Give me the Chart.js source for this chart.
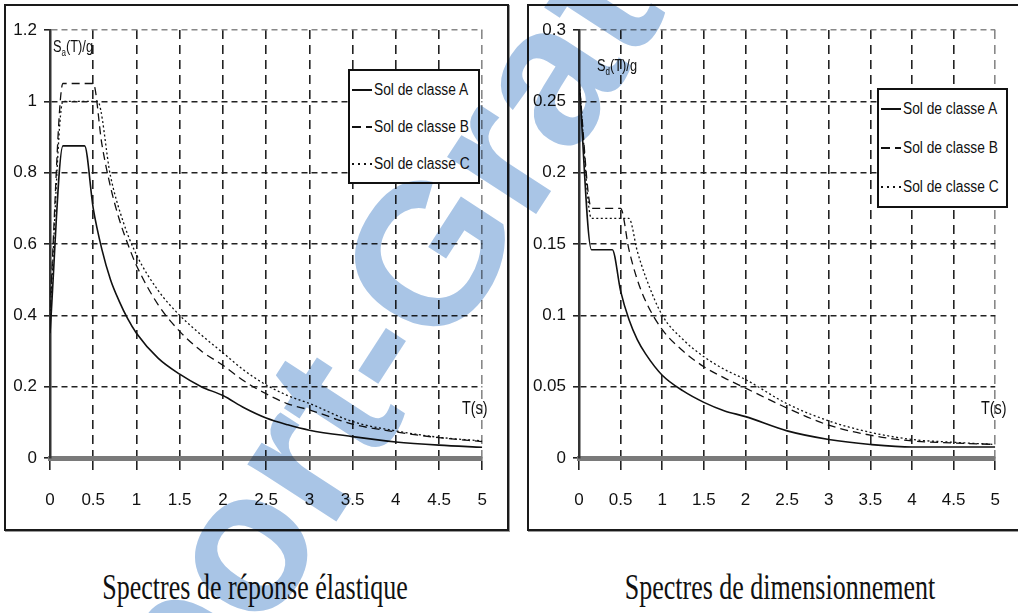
<!DOCTYPE html>
<html>
<head>
<meta charset="utf-8">
<script src="https://cdn.jsdelivr.net/npm/chart.js@4.4.1/dist/chart.umd.min.js"></script>
<style>
body{margin:0;width:1018px;height:613px;overflow:hidden;background:#fff;position:relative;
  font-family:"Liberation Sans",Arial,sans-serif;color:#111}
.box{position:absolute;border:2px solid #1a1a1a;box-shadow:1px 1px 0 #999;background:#fff}
.box canvas{position:absolute;left:0;top:0}
.legend{position:absolute;border:2px solid #111;background:#fff;display:flex;flex-direction:column;justify-content:space-around;padding:0 2px;box-sizing:border-box;overflow:hidden}
.legend div{display:flex;align-items:center;font-size:16px;white-space:nowrap}
.legend svg{margin-right:2px;flex:none}
.legend span{display:inline-block;transform:scaleX(0.86);transform-origin:0 50%}
.lab{position:absolute;font-size:16px;white-space:nowrap;transform:scaleX(0.8);transform-origin:0 0}
.lab sub{font-size:10px}
.title{position:absolute;font-family:"Liberation Serif","DejaVu Serif",serif;font-size:26px;text-align:center;white-space:nowrap;transform:scaleY(1.35);transform-origin:50% 0}
#wm{position:absolute;left:0;top:0;mix-blend-mode:multiply;pointer-events:none}
</style>
</head>
<body>

<div class="box" style="left:4px;top:4px;width:501px;height:523px"><canvas id="elastic" width="501" height="523"></canvas></div>
<div class="box" style="left:527px;top:4px;width:491px;height:523px"><canvas id="design" width="491" height="523"></canvas></div>

<div class="lab" style="left:53px;top:38px">S<sub>a</sub>(T)/g</div>
<div class="lab" style="left:597px;top:57px">S<sub>d</sub>(T)/g</div>
<div class="lab" style="left:462px;top:398px;font-size:18px">T(s)</div>
<div class="lab" style="left:981px;top:398px;font-size:18px">T(s)</div>

<div class="legend" style="left:348px;top:69px;width:132px;height:115px">
  <div><svg width="20" height="4"><line x1="0" y1="2" x2="20" y2="2" stroke="#111" stroke-width="2"/></svg><span>Sol de classe A</span></div>
  <div><svg width="20" height="4"><line x1="0" y1="2" x2="20" y2="2" stroke="#111" stroke-width="2" stroke-dasharray="9,5"/></svg><span>Sol de classe B</span></div>
  <div><svg width="20" height="4"><line x1="0" y1="2" x2="20" y2="2" stroke="#111" stroke-width="2" stroke-dasharray="2,4"/></svg><span>Sol de classe C</span></div>
</div>
<div class="legend" style="left:877px;top:88px;width:131px;height:120px">
  <div><svg width="20" height="4"><line x1="0" y1="2" x2="20" y2="2" stroke="#111" stroke-width="2"/></svg><span>Sol de classe A</span></div>
  <div><svg width="20" height="4"><line x1="0" y1="2" x2="20" y2="2" stroke="#111" stroke-width="2" stroke-dasharray="9,5"/></svg><span>Sol de classe B</span></div>
  <div><svg width="20" height="4"><line x1="0" y1="2" x2="20" y2="2" stroke="#111" stroke-width="2" stroke-dasharray="2,4"/></svg><span>Sol de classe C</span></div>
</div>

<div class="title" style="left:55px;width:400px;top:568px">Spectres de réponse élastique</div>
<div class="title" style="left:580px;width:400px;top:568px">Spectres de dimensionnement</div>

<svg id="wm" width="1018" height="613">
  <text x="-10" y="1055" transform="rotate(-57 -10 1055)" font-family="Liberation Sans, Arial, sans-serif" font-weight="bold" font-size="200" fill="#a9c5e6">Rapport-Gratuit.com</text>
</svg>

<script>
// periods (s) and spectral values
const xTickLabels = ['0', '0.5', '1', '1.5', '2', '2.5', '3', '3.5', '4', '4.5', '5'];
const elasYTicks = ['0', '0.2', '0.4', '0.6', '0.8', '1', '1.2'];
const dimYTicks = ['0', '0.05', '0.1', '0.15', '0.2', '0.25', '0.3'];
const classNames = ['Sol de classe A', 'Sol de classe B', 'Sol de classe C'];

// elastic response spectra Sa(T)/g
const elasTA = [0, 0.15, 0.4, 0.5, 0.6, 0.7, 0.8, 0.9, 1.0, 1.25, 1.5, 1.75, 2.0, 2.25, 2.5, 2.75, 3.0, 3.5, 4.0, 4.5, 5.0];
const elasA = [0.35, 0.875, 0.875, 0.70, 0.585, 0.50, 0.44, 0.39, 0.35, 0.28, 0.235, 0.20, 0.175, 0.14, 0.112, 0.093, 0.078, 0.06, 0.045, 0.036, 0.03];
const elasTB = [0, 0.15, 0.5, 0.6, 0.7, 0.8, 0.9, 1.0, 1.25, 1.5, 1.75, 2.0, 2.25, 2.5, 2.75, 3.0, 3.5, 4.0, 4.5, 5.0];
const elasB = [0.42, 1.05, 1.05, 0.88, 0.76, 0.67, 0.6, 0.54, 0.43, 0.355, 0.3, 0.26, 0.215, 0.18, 0.152, 0.135, 0.095, 0.073, 0.057, 0.046];
const elasTC = [0, 0.15, 0.55, 0.7, 0.85, 1.0, 1.25, 1.5, 1.75, 2.0, 2.25, 2.5, 2.75, 3.0, 3.5, 4.0, 4.5, 5.0];
const elasC = [0.4, 1.0, 1.0, 0.79, 0.66, 0.57, 0.47, 0.40, 0.345, 0.295, 0.245, 0.205, 0.175, 0.153, 0.102, 0.076, 0.058, 0.048];

// design spectra Sd(T)/g
const dimTA = [0, 0.15, 0.4, 0.5, 0.6, 0.7, 0.8, 1.0, 1.25, 1.5, 1.75, 2.0, 2.5, 3.0, 3.5, 4.0, 4.5, 5.0];
const dimA = [0.265, 0.146, 0.146, 0.117, 0.097, 0.083, 0.073, 0.058, 0.047, 0.039, 0.033, 0.029, 0.019, 0.013, 0.0095, 0.0077, 0.0077, 0.0077];
const dimTB = [0, 0.15, 0.5, 0.6, 0.7, 0.8, 1.0, 1.25, 1.5, 1.75, 2.0, 2.5, 3.0, 3.5, 4.0, 4.5, 5.0];
const dimB = [0.265, 0.175, 0.175, 0.146, 0.125, 0.11, 0.09, 0.075, 0.064, 0.056, 0.049, 0.035, 0.023, 0.016, 0.012, 0.0105, 0.0095];
const dimTC = [0, 0.15, 0.6, 0.7, 0.8, 1.0, 1.25, 1.5, 1.75, 2.0, 2.5, 3.0, 3.5, 4.0, 4.5, 5.0];
const dimC = [0.265, 0.168, 0.168, 0.145, 0.127, 0.10, 0.083, 0.071, 0.062, 0.055, 0.038, 0.026, 0.018, 0.013, 0.011, 0.0095];

const tickFont = {family: '"Liberation Sans", Arial, sans-serif', size: 17};

function pts(ts, vs) {
    return ts.map((t, i) => ({x: t, y: vs[i]}));
}

function spectrumChart(id, series, yMax, yStep, yLabels, yAxisW, rightPad) {
    const styles = [
        {borderWidth: 1.6, borderDash: []},
        {borderWidth: 1.3, borderDash: [8, 5]},
        {borderWidth: 1.3, borderDash: [2, 2.5]}
    ];
    return new Chart(document.getElementById(id), {
        type: 'line',
        data: {
            datasets: series.map((s, i) => ({
                label: classNames[i],
                data: s,
                borderColor: '#111',
                borderWidth: styles[i].borderWidth,
                borderDash: styles[i].borderDash,
                pointRadius: 0,
                fill: false,
                cubicInterpolationMode: 'monotone'
            }))
        },
        options: {
            responsive: false,
            animation: false,
            layout: {padding: {top: 24, right: rightPad, left: 0, bottom: 0}},
            plugins: {legend: {display: false}, tooltip: {enabled: false}},
            scales: {
                x: {
                    type: 'linear', min: 0, max: 5,
                    afterFit: s => { s.height = 71; },
                    ticks: {stepSize: 0.5, font: tickFont, color: '#111', padding: 20, maxRotation: 0,
                        callback: (v, i) => xTickLabels[i]},
                    grid: {color: c => c.index === 10 ? '#888' : '#222', lineWidth: 1.6, tickLength: 12,
                        tickColor: '#222', tickBorderDash: [9, 6]},
                    border: {display: true, color: '#7a7a7a', width: 5, dash: [9, 6]}
                },
                y: {
                    min: 0, max: yMax,
                    afterFit: s => { s.width = yAxisW; },
                    ticks: {stepSize: yStep, font: tickFont, color: '#111', padding: 7,
                        callback: (v, i) => yLabels[i]},
                    grid: {color: c => c.index === 6 ? '#888' : '#222', lineWidth: 1.6, tickLength: 6, tickColor: '#222'},
                    border: {display: true, color: '#333', width: 2.5, dash: [6, 4]}
                }
            }
        }
    });
}

spectrumChart('elastic', [pts(elasTA, elasA), pts(elasTB, elasB), pts(elasTC, elasC)], 1.2, 0.2, elasYTicks, 44, 14);
spectrumChart('design', [pts(dimTA, dimA), pts(dimTB, dimB), pts(dimTC, dimC)], 0.3, 0.05, dimYTicks, 50, 7);
</script>
</body>
</html>
